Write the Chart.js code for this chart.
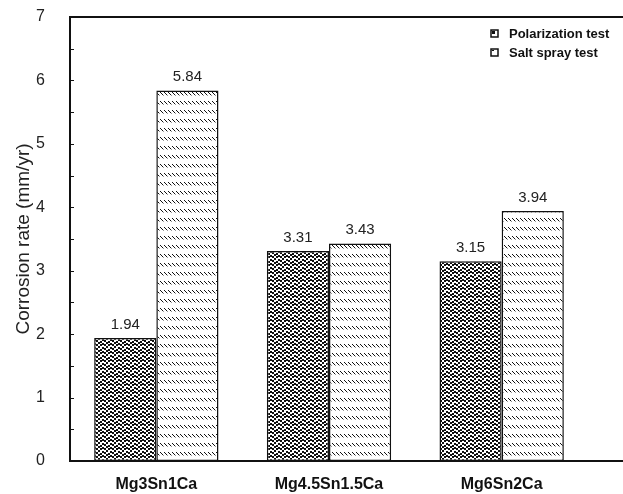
<!DOCTYPE html>
<html>
<head>
<meta charset="utf-8">
<script src="https://cdn.jsdelivr.net/npm/chart.js@4/dist/chart.umd.min.js"></script>
<style>
  html, body { margin: 0; padding: 0; background: #fff; overflow: hidden; }
  #wrap { width: 623px; height: 494px; }
</style>
</head>
<body>
<div id="wrap"><canvas id="chart" width="623" height="494"></canvas></div>
<script>
const alloys = ['Mg3Sn1Ca', 'Mg4.5Sn1.5Ca', 'Mg6Sn2Ca']
const polarization = [1.94, 3.31, 3.15]
const saltSpray = [5.84, 3.43, 3.94]
const seriesNames = ['Polarization test', 'Salt spray test']
const yMin = 0
const yMax = 7

const FONT = 'Arial, "Liberation Sans", sans-serif'

// dotted fill, like the old xerox-style stipple
function dotPattern() {
  const c = document.createElement('canvas')
  c.width = 8
  c.height = 8
  const g = c.getContext('2d')
  g.fillStyle = '#fff'
  g.fillRect(0, 0, 8, 8)
  g.fillStyle = '#111'
  const dots = [[0, 0], [4, 0], [2, 2], [6, 3], [0, 4], [4, 5], [2, 6], [6, 7]]
  dots.forEach(d => {
    g.fillRect(d[0], d[1], 2, 2)
    if (d[1] === 7) g.fillRect(d[0], 0, 2, 1)
  })
  return g.createPattern(c, 'repeat')
}

// short backslash rows
function hatchPattern() {
  const c = document.createElement('canvas')
  c.width = 4
  c.height = 9
  const g = c.getContext('2d')
  g.fillStyle = '#fff'
  g.fillRect(0, 0, 4, 9)
  g.fillStyle = '#111'
  g.fillRect(0, 2, 1, 1)
  g.fillRect(1, 3, 1, 1)
  g.fillRect(2, 4, 1, 1)
  g.fillStyle = '#999'
  g.fillRect(3, 5, 1, 1)
  return g.createPattern(c, 'repeat')
}

const dots = dotPattern()
const hatch = hatchPattern()

const framePlugin = {
  id: 'frame',
  afterDraw(chart) {
    const ctx = chart.ctx
    const a = chart.chartArea
    const y = chart.scales.y
    ctx.save()
    ctx.strokeStyle = '#111'
    ctx.lineWidth = 2
    ctx.beginPath()
    ctx.moveTo(a.left, a.top)
    ctx.lineTo(chart.width, a.top)
    ctx.moveTo(a.left, a.bottom)
    ctx.lineTo(chart.width, a.bottom)
    ctx.moveTo(a.left, a.top - 1)
    ctx.lineTo(a.left, a.bottom + 1)
    ctx.stroke()

    // inward ticks every half unit
    ctx.lineWidth = 1
    ctx.beginPath()
    for (let v = yMin + 0.5; v < yMax; v += 0.5) {
      const py = Math.round(y.getPixelForValue(v)) + 0.5
      ctx.moveTo(a.left, py)
      ctx.lineTo(a.left + 4, py)
    }
    ctx.stroke()
    ctx.restore()
  }
}

const valuePlugin = {
  id: 'values',
  afterDatasetsDraw(chart) {
    const ctx = chart.ctx
    ctx.save()
    ctx.font = '15px ' + FONT
    ctx.fillStyle = '#222'
    ctx.textAlign = 'center'
    ctx.textBaseline = 'bottom'
    chart.data.datasets.forEach((ds, i) => {
      chart.getDatasetMeta(i).data.forEach((bar, j) => {
        ctx.fillText(ds.data[j].toFixed(2), bar.x, bar.y - 6)
      })
    })
    ctx.restore()
  }
}

const legendPlugin = {
  id: 'boxLegend',
  afterDraw(chart) {
    const ctx = chart.ctx
    ctx.save()
    ctx.font = 'bold 13px ' + FONT
    ctx.textBaseline = 'middle'
    chart.data.datasets.forEach((ds, i) => {
      const cy = 33 + i * 19
      ctx.fillStyle = '#fff'
      ctx.fillRect(491, cy - 3, 7, 7)
      ctx.strokeStyle = '#111'
      ctx.lineWidth = 1.5
      ctx.strokeRect(491, cy - 3, 7, 7)
      ctx.fillStyle = '#111'
      if (i === 0) ctx.fillRect(492, cy - 2, 3, 3)
      else ctx.fillRect(492, cy - 2, 2, 1)
      ctx.fillText(ds.label, 509, cy + 1)
    })
    ctx.restore()
  }
}

new Chart(document.getElementById('chart'), {
  type: 'bar',
  data: {
    labels: alloys,
    datasets: [{
      label: seriesNames[0],
      data: polarization,
      backgroundColor: dots,
      borderColor: '#111',
      borderWidth: 1.5,
      borderSkipped: false
    }, {
      label: seriesNames[1],
      data: saltSpray,
      backgroundColor: hatch,
      borderColor: '#111',
      borderWidth: 1.5,
      borderSkipped: false
    }]
  },
  options: {
    responsive: false,
    animation: false,
    devicePixelRatio: 1,
    datasets: {
      bar: {
        categoryPercentage: 0.72,
        barPercentage: 1
      }
    },
    layout: {
      padding: { left: 0, right: 35, top: 17, bottom: 0 }
    },
    plugins: {
      legend: { display: false },
      tooltip: { enabled: false }
    },
    scales: {
      x: {
        grid: { display: false, drawTicks: false },
        border: { display: false },
        ticks: {
          color: '#111',
          padding: 14,
          font: { family: FONT, size: 16, weight: 'bold' }
        },
        afterFit(scale) { scale.height = 33 }
      },
      y: {
        min: yMin,
        max: yMax,
        grid: { display: false, drawTicks: false },
        border: { display: false },
        ticks: {
          stepSize: 1,
          color: '#222',
          padding: 25,
          font: { family: FONT, size: 16 }
        },
        title: {
          display: true,
          text: 'Corrosion rate (mm/yr)',
          color: '#222',
          padding: { top: 12, bottom: 0 },
          font: { family: FONT, size: 19 }
        },
        afterFit(scale) {
          scale.width = 70
          // keep label padding from pushing the plot down
          scale.paddingTop = 0
          scale.paddingBottom = 0
        }
      }
    }
  },
  plugins: [framePlugin, valuePlugin, legendPlugin]
})
</script>
</body>
</html>
